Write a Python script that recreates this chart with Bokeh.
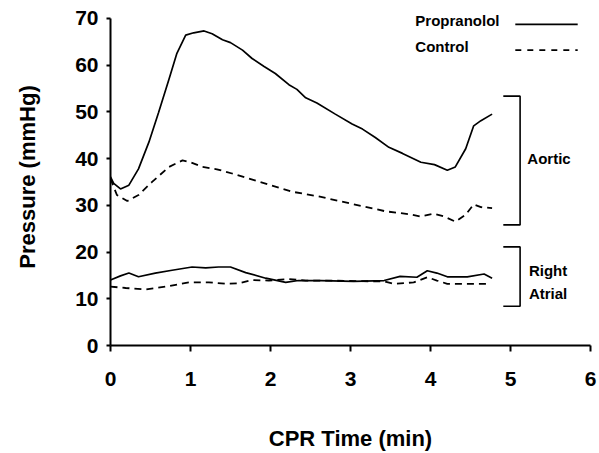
from bokeh.plotting import figure
from bokeh.models import Range1d, Label, FixedTicker
from bokeh.embed import file_html
from bokeh.resources import INLINE

# ---- data ----
time_prop_aortic = [0, 0.04, 0.125, 0.23, 0.35, 0.48, 0.60, 0.73, 0.83, 0.94, 1.04, 1.17, 1.27,
                    1.40, 1.50, 1.65, 1.77, 1.92, 2.06, 2.23, 2.33, 2.44, 2.58, 2.81, 3.02, 3.15,
                    3.31, 3.48, 3.65, 3.88, 4.05, 4.21, 4.31, 4.44, 4.54, 4.63, 4.77]
prop_aortic = [36.1, 34.7, 33.5, 34.3, 37.8, 43.5, 49.8, 56.9, 62.5, 66.4, 66.9, 67.3, 66.7,
               65.4, 64.8, 63.2, 61.4, 59.7, 58.2, 55.8, 54.8, 53.0, 51.9, 49.5, 47.4, 46.3,
               44.5, 42.4, 41.1, 39.2, 38.7, 37.5, 38.2, 42.1, 47.0, 48.1, 49.5]

time_ctrl_aortic = [0, 0.08, 0.21, 0.35, 0.52, 0.73, 0.90, 1.0, 1.15, 1.33, 1.52, 1.73, 2.0,
                    2.27, 2.60, 3.02, 3.44, 3.73, 3.87, 4.04, 4.17, 4.31, 4.44, 4.54, 4.63, 4.77]
ctrl_aortic = [35.7, 32.2, 30.9, 32.2, 35.0, 38.2, 39.6, 39.2, 38.2, 37.7, 36.8, 35.7, 34.3,
               32.9, 31.9, 30.3, 28.7, 28.1, 27.6, 28.2, 27.6, 26.5, 28.0, 30.2, 29.6, 29.4]

time_prop_ra = [0, 0.125, 0.23, 0.35, 0.56, 0.77, 1.02, 1.19, 1.35, 1.5, 1.69, 1.94, 2.19,
                2.35, 2.63, 3.04, 3.42, 3.62, 3.83, 3.96, 4.08, 4.21, 4.46, 4.67, 4.77]
prop_ra = [14.0, 14.9, 15.5, 14.7, 15.5, 16.1, 16.8, 16.6, 16.8, 16.8, 15.6, 14.4, 13.5,
           13.9, 13.9, 13.7, 13.9, 14.8, 14.6, 16.0, 15.5, 14.7, 14.7, 15.3, 14.4]

time_ctrl_ra = [0, 0.19, 0.44, 0.69, 0.98, 1.23, 1.44, 1.6, 1.77, 1.98, 2.23, 2.44, 2.63,
                3.42, 3.54, 3.79, 3.96, 4.08, 4.21, 4.71]
ctrl_ra = [12.6, 12.3, 12.0, 12.6, 13.5, 13.5, 13.2, 13.3, 14.0, 13.9, 14.2, 13.9, 13.9,
           13.7, 13.2, 13.5, 14.6, 13.9, 13.2, 13.2]

x_ticks = [0, 1, 2, 3, 4, 5, 6]
y_ticks = [0, 10, 20, 30, 40, 50, 60, 70]
series_names = ["Propranolol", "Control"]
group_names = ["Aortic", "Right\nAtrial"]

FONT = "Liberation Sans"
DASH = "7 5"

p = figure(width=599, height=453, x_range=Range1d(0, 6), y_range=Range1d(0, 72.1),
           output_backend="svg", toolbar_location=None,
           min_border_left=110, min_border_right=9, min_border_top=8, min_border_bottom=104)
p.outline_line_color = None
p.xgrid.visible = False
p.ygrid.visible = False
p.background_fill_color = "white"
p.border_fill_color = "white"

for ax, ticks in ((p.xaxis[0], x_ticks), (p.yaxis[0], y_ticks)):
    ax.ticker = FixedTicker(ticks=ticks)
    ax.axis_line_width = 2
    ax.axis_line_color = "black"
    ax.major_tick_line_width = 2
    ax.major_tick_line_color = "black"
    ax.major_tick_in = 0
    ax.minor_tick_line_color = None
    ax.major_label_text_font = FONT
    ax.major_label_text_font_style = "bold"
    ax.major_label_text_font_size = "21px"
    ax.major_label_text_color = "black"
    ax.axis_label_text_font = FONT
    ax.axis_label_text_font_style = "bold"
    ax.axis_label_text_font_size = "22px"
    ax.axis_label_text_color = "black"

p.yaxis.bounds = (0, 70)
p.xaxis.major_tick_out = 6
p.xaxis.major_label_standoff = 20
p.xaxis.axis_label = "CPR Time (min)"
p.xaxis.axis_label_standoff = 37
p.yaxis.major_tick_out = 4
p.yaxis.major_label_standoff = 8
p.yaxis.axis_label = "Pressure (mmHg)"
p.yaxis.axis_label_standoff = 32

# curves
p.line(time_prop_aortic, prop_aortic, line_color="black", line_width=1.7)
p.line(time_ctrl_aortic, ctrl_aortic, line_color="black", line_width=1.8, line_dash=DASH)
p.line(time_prop_ra, prop_ra, line_color="black", line_width=1.7)
p.line(time_ctrl_ra, ctrl_ra, line_color="black", line_width=1.8, line_dash=DASH)

# legend (manual)
p.line([5.06, 5.84], [68.7, 68.7], line_color="black", line_width=1.8)
p.line([5.06, 5.84], [63.2, 63.2], line_color="black", line_width=1.8, line_dash="6 6")
p.add_layout(Label(x=3.81, y=69.6, text=series_names[0], text_font=FONT, text_font_style="bold",
                   text_font_size="15px", text_baseline="middle", text_color="black"))
p.add_layout(Label(x=3.81, y=63.9, text=series_names[1], text_font=FONT, text_font_style="bold",
                   text_font_size="15px", text_baseline="middle", text_color="black"))

# brackets
p.line([4.91, 5.12, 5.12, 4.91], [53.35, 53.35, 25.8, 25.8], line_color="black", line_width=1.6)
p.line([4.91, 5.12, 5.12, 4.91], [21.1, 21.1, 8.4, 8.4], line_color="black", line_width=1.6)
p.add_layout(Label(x=5.21, y=40.0, text=group_names[0], text_font=FONT, text_font_style="bold",
                   text_font_size="15px", text_baseline="middle", text_color="black"))
ra_words = group_names[1].split("\n")
p.add_layout(Label(x=5.23, y=16.0, text=ra_words[0], text_font=FONT, text_font_style="bold",
                   text_font_size="15px", text_baseline="middle", text_color="black"))
p.add_layout(Label(x=5.23, y=11.1, text=ra_words[1], text_font=FONT, text_font_style="bold",
                   text_font_size="15px", text_baseline="middle", text_color="black"))

open("out.html", "w").write(file_html(p, INLINE))
